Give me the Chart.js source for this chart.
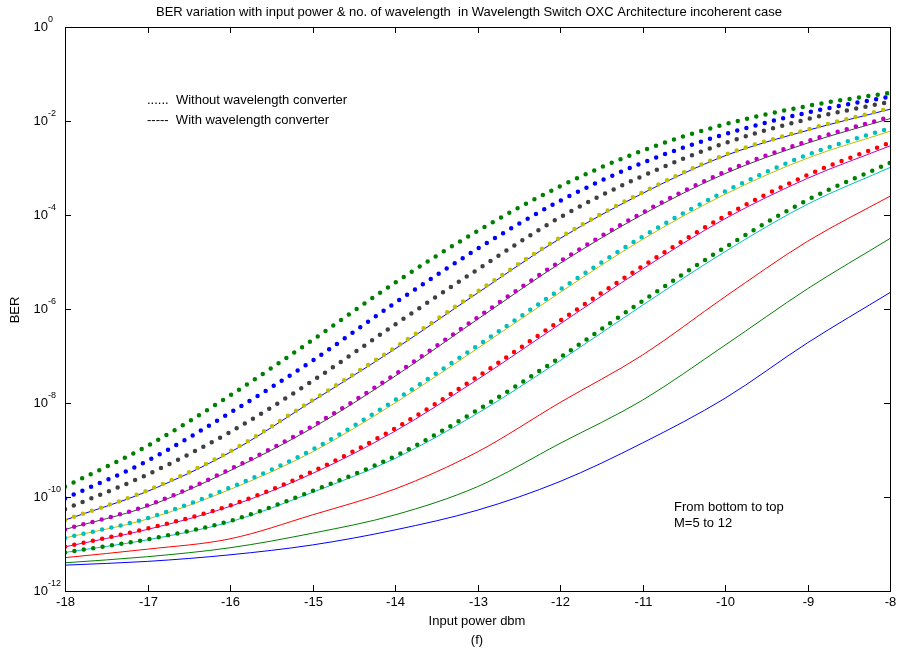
<!DOCTYPE html>
<html>
<head>
<meta charset="utf-8">
<script src="https://cdn.jsdelivr.net/npm/chart.js@4/dist/chart.umd.min.js"></script>
<style>
  html, body { margin: 0; padding: 0; background: #fff; }
</style>
</head>
<body>
<canvas id="grafBer" width="898" height="653"></canvas>
<script>
// input power (dBm) where the curves were read
const powerDbm = [-18, -17, -16, -15, -14, -13, -12, -11, -10, -9, -8];

// log10(BER) without wavelength converter, M = 5..12 (dotted)
const sinM5  = [-11.18, -10.90, -10.51, -9.87, -9.13, -8.15, -7.03, -5.83, -4.69, -3.68, -2.89];
const sinM6  = [-11.06, -10.67, -10.18, -9.46, -8.54, -7.44, -6.25, -5.09, -4.02, -3.15, -2.46];
const sinM7  = [-10.87, -10.45, -9.80, -8.99, -7.94, -6.78, -5.59, -4.46, -3.50, -2.72, -2.15];
const sinM8  = [-10.69, -10.18, -9.41, -8.49, -7.39, -6.18, -4.99, -3.95, -3.08, -2.43, -1.91];
const sinM9  = [-10.49, -9.86, -9.03, -7.94, -6.82, -5.63, -4.48, -3.52, -2.72, -2.18, -1.73];
const sinM10 = [-10.26, -9.52, -8.62, -7.53, -6.33, -5.16, -4.05, -3.17, -2.47, -1.96, -1.59];
const sinM11 = [-10.03, -9.23, -8.21, -7.10, -5.87, -4.72, -3.70, -2.89, -2.28, -1.82, -1.48];
const sinM12 = [-9.78, -8.91, -7.84, -6.66, -5.44, -4.34, -3.39, -2.63, -2.07, -1.68, -1.40];

// log10(BER) with wavelength converter, M = 5..12 (solid)
const conM5  = [-11.45, -11.37, -11.23, -11.02, -10.70, -10.28, -9.67, -8.85, -7.90, -6.72, -5.65];
const conM6  = [-11.40, -11.27, -11.08, -10.77, -10.38, -9.78, -8.86, -7.94, -6.77, -5.57, -4.50];
const conM7  = [-11.29, -11.11, -10.89, -10.38, -9.83, -9.04, -7.99, -6.98, -5.74, -4.56, -3.60];
const conM8  = [-11.18, -10.91, -10.53, -9.90, -9.18, -8.22, -7.10, -5.92, -4.78, -3.77, -2.99];
const conM9  = [-11.06, -10.69, -10.20, -9.50, -8.60, -7.50, -6.32, -5.15, -4.08, -3.22, -2.53];
const conM10 = [-10.87, -10.47, -9.84, -9.04, -8.00, -6.84, -5.65, -4.52, -3.56, -2.79, -2.22];
const conM11 = [-10.69, -10.20, -9.44, -8.53, -7.43, -6.22, -5.03, -3.99, -3.12, -2.47, -1.95];
const conM12 = [-10.49, -9.88, -9.05, -7.96, -6.85, -5.66, -4.50, -3.54, -2.74, -2.20, -1.75];

// axis ticks
const xTicks = [-18, -17, -16, -15, -14, -13, -12, -11, -10, -9, -8];
const yTickExp = [0, -2, -4, -6, -8, -10, -12];

// colores estilo matlab
const azul = '#0000ff', verde = '#008000', rojo = '#ff0000', cian = '#00bfbf',
      magenta = '#bf00bf', amarillo = '#bfbf00', gris = '#404040';

function puntos(serie) {
    return serie.map((e, i) => ({ x: powerDbm[i], y: Math.pow(10, e) }));
}

function punteada(label, serie, color) {
    return {
        label: label, data: puntos(serie), borderColor: color,
        borderWidth: 4.5, borderDash: [0, 9.5], borderCapStyle: 'round',
        cubicInterpolationMode: 'monotone', pointRadius: 0, fill: false
    };
}

function solida(label, serie, color) {
    return {
        label: label, data: puntos(serie), borderColor: color,
        borderWidth: 1, cubicInterpolationMode: 'monotone', pointRadius: 0, fill: false
    };
}

var datasets = [
    punteada('Without M=5', sinM5, verde),
    punteada('Without M=6', sinM6, rojo),
    punteada('Without M=7', sinM7, cian),
    punteada('Without M=8', sinM8, magenta),
    punteada('Without M=9', sinM9, amarillo),
    punteada('Without M=10', sinM10, gris),
    punteada('Without M=11', sinM11, azul),
    punteada('Without M=12', sinM12, verde),
    solida('With M=5', conM5, azul),
    solida('With M=6', conM6, verde),
    solida('With M=7', conM7, rojo),
    solida('With M=8', conM8, cian),
    solida('With M=9', conM9, magenta),
    solida('With M=10', conM10, amarillo),
    solida('With M=11', conM11, gris),
    solida('With M=12', conM12, azul)
];

const FUENTE = '"Liberation Sans", Arial, Helvetica, sans-serif';

// marco, ticks y textos al estilo matlab
var marco = {
    id: 'marco',
    afterDraw: function(chart) {
        var ctx = chart.ctx, a = chart.chartArea, sx = chart.scales.x, sy = chart.scales.y;
        ctx.save();
        ctx.strokeStyle = '#000';
        ctx.lineWidth = 1;
        ctx.strokeRect(Math.round(a.left) + 0.5, Math.round(a.top) + 0.5,
                       Math.round(a.right - a.left), Math.round(a.bottom - a.top));

        ctx.fillStyle = '#000';
        ctx.font = '13px ' + FUENTE;
        ctx.textAlign = 'center';
        ctx.textBaseline = 'top';
        xTicks.forEach(function(v) {
            var px = Math.round(sx.getPixelForValue(v)) + 0.5;
            ctx.beginPath();
            ctx.moveTo(px, a.bottom); ctx.lineTo(px, a.bottom - 6);
            ctx.moveTo(px, a.top); ctx.lineTo(px, a.top + 6);
            ctx.stroke();
            ctx.fillText(String(v), px, a.bottom + 5);
        });

        yTickExp.forEach(function(e) {
            var py = Math.round(sy.getPixelForValue(Math.pow(10, e))) + 0.5;
            ctx.beginPath();
            ctx.moveTo(a.left, py); ctx.lineTo(a.left + 6, py);
            ctx.moveTo(a.right, py); ctx.lineTo(a.right - 6, py);
            ctx.stroke();
            ctx.font = '13px ' + FUENTE;
            ctx.textAlign = 'right';
            ctx.textBaseline = 'middle';
            ctx.fillText('10', a.left - 17, py);
            ctx.font = '9px ' + FUENTE;
            ctx.textAlign = 'left';
            ctx.fillText(String(e), a.left - 17, py - 8);
        });

        ctx.font = '13px ' + FUENTE;
        ctx.textAlign = 'center';
        ctx.textBaseline = 'middle';
        ctx.fillText('BER variation with input power & no. of wavelength  in Wavelength Switch OXC Architecture incoherent case', 469, 12);
        ctx.fillText('Input power dbm', 477, 621);
        ctx.fillText('(f)', 477, 640);

        ctx.save();
        ctx.translate(15, 310);
        ctx.rotate(-Math.PI / 2);
        ctx.fillText('BER', 0, 0);
        ctx.restore();

        ctx.textAlign = 'left';
        ctx.fillText('......  Without wavelength converter', 147, 100);
        ctx.fillText('-----  With wavelength converter', 147, 120);
        ctx.fillText('From bottom to top', 674, 507);
        ctx.fillText('M=5 to 12', 674, 523);
        ctx.restore();
    }
};

function dibujarGraficoBer() {
    var ctx = document.getElementById('grafBer');
    new Chart(ctx, {
        type: 'line',
        data: { datasets: datasets },
        options: {
            responsive: false,
            animation: false,
            layout: { padding: { left: 65, right: 8, top: 27, bottom: 62 } },
            scales: {
                x: { type: 'linear', min: -18, max: -8, display: false },
                y: { type: 'logarithmic', min: 1e-12, max: 1, display: false }
            },
            plugins: { legend: { display: false }, tooltip: { enabled: false } }
        },
        plugins: [marco]
    });
}

dibujarGraficoBer();
</script>
</body>
</html>
